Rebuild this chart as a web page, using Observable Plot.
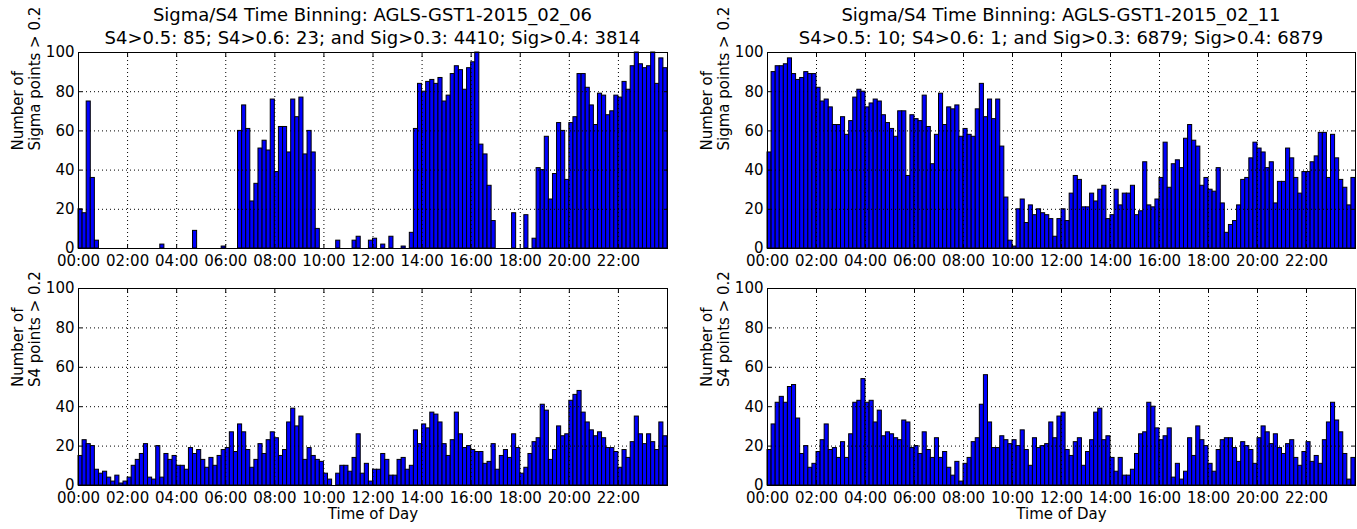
<!DOCTYPE html>
<html>
<head>
<meta charset="utf-8">
<script src="https://cdn.jsdelivr.net/npm/d3@7"></script>
<script src="https://cdn.jsdelivr.net/npm/@observablehq/plot@0.6"></script>
<style>
  html, body { margin: 0; padding: 0; background: #ffffff; }
  #fig { position: relative; width: 1357px; height: 529px; font-family: "DejaVu Sans", sans-serif; color: #000; overflow: hidden; }
  .title { position: absolute; width: 800px; text-align: center; font-size: 18px; line-height: 22px; white-space: nowrap; }
  .panel { position: absolute; }
</style>
</head>
<body>
<div id="fig"></div>
<script>
// Counts per 10-minute bin (144 bins over the day), one row of 12 per two hours.
const sigmaCounts0206 = [
  20, 18, 75, 36, 4, 0, 0, 0, 0, 0, 0, 0,
  0, 0, 0, 0, 0, 0, 0, 0, 2, 0, 0, 0,
  0, 0, 0, 0, 9, 0, 0, 0, 0, 0, 0, 1,
  0, 0, 0, 60, 73, 61, 24, 33, 51, 55, 50, 76,
  39, 62, 62, 49, 76, 67, 77, 48, 60, 49, 10, 0,
  0, 0, 0, 4, 0, 0, 0, 4, 6, 0, 0, 4,
  5, 0, 2, 0, 6, 0, 0, 1, 0, 8, 61, 84,
  80, 85, 86, 84, 87, 75, 78, 89, 93, 91, 81, 92,
  95, 100, 53, 48, 32, 14, 0, 0, 0, 0, 18, 0,
  0, 17, 0, 5, 41, 40, 57, 25, 38, 64, 60, 35,
  64, 67, 89, 89, 82, 73, 63, 79, 78, 68, 70, 78,
  77, 85, 81, 93, 100, 94, 92, 93, 100, 84, 97, 92
];
const s4Counts0206 = [
  15, 23, 21, 20, 8, 6, 7, 4, 2, 5, 1, 2,
  4, 10, 13, 16, 21, 4, 3, 20, 4, 16, 13, 15,
  10, 10, 8, 19, 16, 18, 13, 9, 14, 10, 15, 18,
  19, 27, 17, 31, 27, 18, 9, 13, 21, 16, 23, 27,
  24, 15, 18, 32, 39, 30, 35, 13, 19, 15, 13, 12,
  6, 3, 0, 6, 10, 10, 7, 14, 26, 6, 11, 2,
  8, 8, 16, 13, 5, 5, 13, 14, 8, 10, 28, 21,
  31, 29, 37, 36, 32, 21, 15, 23, 37, 26, 19, 20,
  18, 17, 17, 11, 12, 21, 8, 15, 18, 14, 26, 19,
  6, 9, 16, 22, 24, 41, 38, 13, 18, 30, 25, 26,
  43, 46, 48, 37, 32, 28, 25, 27, 24, 19, 19, 17,
  9, 18, 14, 22, 35, 26, 21, 26, 22, 18, 32, 25
];
const sigmaCounts0211 = [
  49, 90, 93, 93, 94, 97, 89, 86, 87, 90, 89, 89,
  82, 75, 76, 72, 63, 63, 67, 58, 65, 77, 81, 80,
  72, 74, 76, 75, 68, 64, 61, 57, 70, 70, 37, 68,
  66, 65, 78, 62, 43, 58, 79, 63, 72, 71, 73, 57,
  61, 58, 57, 71, 84, 67, 76, 66, 76, 52, 26, 4,
  1, 20, 25, 13, 22, 17, 20, 18, 17, 15, 6, 15,
  20, 14, 28, 37, 35, 21, 21, 28, 24, 30, 32, 15,
  17, 30, 22, 28, 28, 32, 17, 19, 44, 22, 21, 25,
  36, 54, 31, 43, 45, 41, 56, 63, 55, 52, 32, 36,
  30, 29, 41, 23, 8, 12, 14, 22, 35, 36, 46, 54,
  51, 49, 41, 44, 23, 34, 34, 51, 46, 36, 28, 39,
  39, 44, 47, 59, 59, 36, 58, 46, 35, 31, 22, 36
];
const s4Counts0211 = [
  18, 31, 42, 45, 42, 50, 51, 34, 16, 20, 9, 11,
  17, 23, 31, 18, 19, 14, 22, 14, 26, 42, 43, 54,
  42, 43, 32, 38, 25, 27, 26, 24, 23, 33, 32, 19,
  20, 16, 27, 18, 14, 24, 14, 17, 9, 5, 12, 2,
  11, 14, 22, 24, 41, 56, 32, 19, 19, 25, 23, 21,
  23, 20, 28, 18, 10, 24, 19, 20, 21, 32, 24, 35,
  37, 18, 15, 22, 24, 10, 17, 23, 37, 39, 23, 25,
  14, 7, 14, 5, 5, 8, 16, 26, 27, 42, 40, 29,
  23, 25, 29, 4, 11, 3, 7, 24, 15, 30, 23, 20,
  11, 7, 18, 23, 24, 24, 19, 12, 22, 20, 18, 11,
  24, 30, 27, 21, 26, 19, 16, 21, 23, 14, 10, 17,
  22, 12, 15, 11, 23, 32, 42, 33, 27, 16, 3, 14
];

const titles0206 = ["Sigma/S4 Time Binning: AGLS-GST1-2015_02_06",
                    "S4>0.5: 85; S4>0.6: 23; and Sig>0.3: 4410; Sig>0.4: 3814"];
const titles0211 = ["Sigma/S4 Time Binning: AGLS-GST1-2015_02_11",
                    "S4>0.5: 10; S4>0.6: 1; and Sig>0.3: 6879; Sig>0.4: 6879"];
const sigmaLabel = "Number of\nSigma points > 0.2";
const s4Label = "Number of\nS4 points > 0.2";
const xAxisLabel = "Time of Day";
const hourTicks = [0, 2, 4, 6, 8, 10, 12, 14, 16, 18, 20, 22];
const countTicks = [0, 20, 40, 60, 80, 100];

const fig = document.getElementById("fig");
const hourFormat = h => String(h).padStart(2, "0") + ":00";
const dotted = {stroke: "black", strokeOpacity: 1, strokeWidth: 1, strokeDasharray: "1,3"};

function histogramPanel(counts, yLabel, box, withXLabel) {
  const binHours = 24 / counts.length;
  const rows = counts.map((c, i) => ({start: i * binHours, end: (i + 1) * binHours, count: c}));
  const chart = Plot.plot({
    width: box.width,
    height: box.height,
    marginLeft: box.ml, marginRight: box.mr, marginTop: box.mt, marginBottom: box.mb,
    style: {fontFamily: "DejaVu Sans, sans-serif", fontSize: "15px", background: "white", overflow: "visible", color: "black"},
    x: {domain: [0, 24]},
    y: {domain: [0, 100]},
    marks: [
      Plot.rectY(rows, {x1: "start", x2: "end", y: "count", fill: "#0000ff", stroke: "black", strokeWidth: 1}),
      Plot.gridX(hourTicks, dotted),
      Plot.gridY(countTicks, dotted),
      Plot.axisX(hourTicks, {anchor: "bottom", tickSize: 0, tickPadding: 7, tickFormat: hourFormat, label: null, fontSize: 15}),
      Plot.axisX(hourTicks, {anchor: "bottom", tickSize: -4, tickFormat: () => "", label: null}),
      Plot.axisX(hourTicks, {anchor: "top", tickSize: -4, tickFormat: () => "", label: null}),
      Plot.axisY(countTicks, {anchor: "left", tickSize: 0, tickPadding: 4, label: null, fontSize: 15}),
      Plot.axisY(countTicks, {anchor: "left", tickSize: -4, tickFormat: () => "", label: null}),
      Plot.axisY(countTicks, {anchor: "right", tickSize: -4, tickFormat: () => "", label: null}),
      Plot.frame({stroke: "black", strokeWidth: 1}),
      Plot.text([yLabel], {text: d => d, frameAnchor: "left", rotate: -90, dx: -52, fontSize: 15, lineHeight: 1.13, fill: "black"}),
      withXLabel ? Plot.text([xAxisLabel], {text: d => d, frameAnchor: "bottom", dy: 33, fontSize: 15, fill: "black"}) : null
    ]
  });
  chart.classList.add("panel");
  chart.style.left = box.left + "px";
  chart.style.top = box.top + "px";
  fig.appendChild(chart);
}

function addTitle(lines, cx) {
  lines.forEach((t, i) => {
    const d = document.createElement("div");
    d.className = "title";
    d.textContent = t;
    d.style.left = (cx - 400) + "px";
    d.style.top = (4 + i * 23) + "px";
    fig.appendChild(d);
  });
}

const leftTop = {left: 0, top: 46, width: 680, height: 222, ml: 78, mr: 13, mt: 6, mb: 20};
const leftBottom = {left: 0, top: 283, width: 680, height: 246, ml: 78, mr: 13, mt: 5, mb: 44};
const rightTop = {left: 690, top: 46, width: 667, height: 222, ml: 77, mr: 2, mt: 6, mb: 20};
const rightBottom = {left: 690, top: 283, width: 667, height: 246, ml: 77, mr: 2, mt: 5, mb: 44};

histogramPanel(sigmaCounts0206, sigmaLabel, leftTop, false);
histogramPanel(s4Counts0206, s4Label, leftBottom, true);
histogramPanel(sigmaCounts0211, sigmaLabel, rightTop, false);
histogramPanel(s4Counts0211, s4Label, rightBottom, true);

addTitle(titles0206, 372.5);
addTitle(titles0211, 1061);
</script>
</body>
</html>
